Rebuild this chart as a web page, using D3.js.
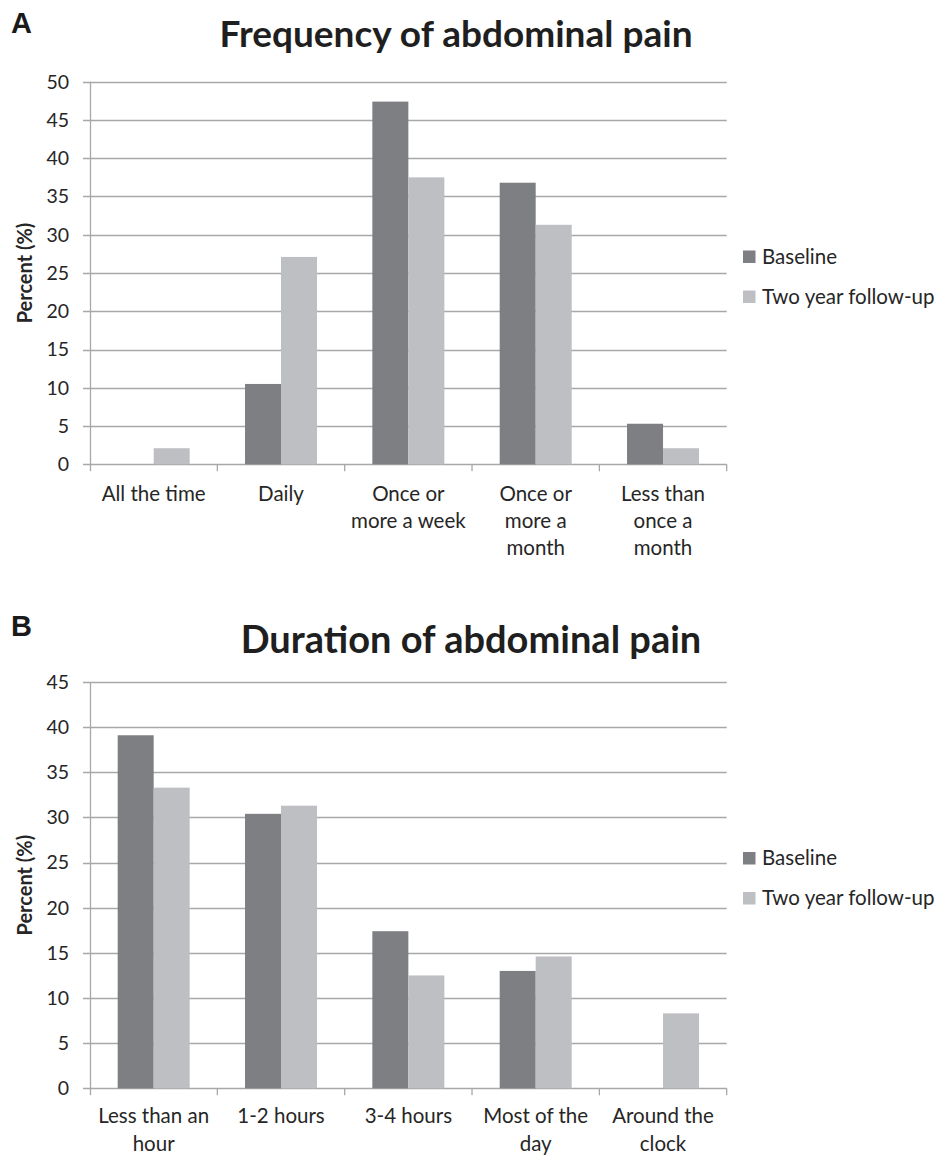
<!DOCTYPE html>
<html>
<head>
<meta charset="utf-8">
<script src="https://cdn.jsdelivr.net/npm/d3@7"></script>
<style>
  html, body { margin: 0; padding: 0; background: #ffffff; }
  svg { display: block; }
  text { font-family: Lato, "Open Sans", sans-serif; fill: #262626; }
</style>
</head>
<body>
<svg id="chart" width="942" height="1155"></svg>
<script>
// ---------- data ----------
const seriesNames = ["Baseline", "Two year follow-up"];

const freqCategories = ["All the time", "Daily", "Once or|more a week", "Once or|more a|month", "Less than|once a|month"];
const freqBaseline = [0, 10.5, 47.4, 36.8, 5.3];
const freqFollowUp = [2.1, 27.1, 37.5, 31.3, 2.1];
const freqTicks = [0, 5, 10, 15, 20, 25, 30, 35, 40, 45, 50];

const durCategories = ["Less than an|hour", "1-2 hours", "3-4 hours", "Most of the|day", "Around the|clock"];
const durBaseline = [39.1, 30.4, 17.4, 13.0, 0];
const durFollowUp = [33.3, 31.3, 12.5, 14.6, 8.3];
const durTicks = [0, 5, 10, 15, 20, 25, 30, 35, 40, 45];

// ---------- style ----------
const colors = ["#7e7f83", "#bebfc3"];
const gridColor = "#a8a8a8";

const svg = d3.select("#chart");

function panel(cfg) {
  const g = svg.append("g");
  const x0 = 90, x1 = 726.7;
  const x = d3.scaleBand().domain(cfg.categories).range([x0, x1]).paddingInner(0).paddingOuter(0);
  const step = x.step();
  const barW = 36;
  const xs = d3.scaleBand().domain(seriesNames).range([0, barW * 2]);
  const y = d3.scaleLinear().domain([0, cfg.max]).range([cfg.yBottom, cfg.yTop]);

  // letter
  g.append("text").attr("x", 11).attr("y", cfg.letterY)
    .style("font-family", "'Liberation Sans', Arial, sans-serif")
    .style("font-weight", "bold").style("font-size", "29px").style("fill", "#1a1a1a")
    .text(cfg.letter);

  // title
  g.append("text").attr("x", cfg.titleX).attr("y", cfg.titleY)
    .attr("text-anchor", "middle")
    .style("font-weight", "bold").style("font-size", cfg.titleSize).style("fill", "#1f1f1f")
    .text(cfg.title);

  // gridlines
  g.selectAll(".grid").data(cfg.ticks).enter().append("line")
    .attr("x1", x0 - 7).attr("x2", x1)
    .attr("y1", d => Math.round(y(d)) + 0.5).attr("y2", d => Math.round(y(d)) + 0.5)
    .attr("stroke", gridColor).attr("stroke-width", 1.3);

  // y tick labels
  g.selectAll(".ytl").data(cfg.ticks).enter().append("text")
    .attr("x", 69).attr("y", d => y(d)).attr("dy", "0.35em")
    .attr("text-anchor", "end").style("font-size", "19.5px")
    .text(d => d);

  // bars
  const series = [cfg.baseline, cfg.followUp];
  seriesNames.forEach((s, si) => {
    g.selectAll(".bar" + si).data(cfg.categories).enter().append("rect")
      .attr("x", d => x(d) + (step - barW * 2) / 2 + xs(s))
      .attr("width", xs.bandwidth())
      .attr("y", (d, i) => y(series[si][i]))
      .attr("height", (d, i) => y(0) - y(series[si][i]))
      .attr("fill", colors[si]);
  });

  // axis lines
  g.append("line").attr("x1", x0 + 0.5).attr("x2", x0 + 0.5)
    .attr("y1", y(cfg.max)).attr("y2", y(0) + 7)
    .attr("stroke", gridColor).attr("stroke-width", 1.3);
  const bounds = cfg.categories.map(c => x(c)).concat([x1]);
  g.selectAll(".xt").data(bounds.slice(1)).enter().append("line")
    .attr("x1", d => d).attr("x2", d => d)
    .attr("y1", y(0)).attr("y2", y(0) + 7)
    .attr("stroke", gridColor).attr("stroke-width", 1.3);

  // x labels
  cfg.categories.forEach(c => {
    const lines = c.split("|");
    const t = g.append("text").attr("text-anchor", "middle").style("font-size", "20.5px");
    lines.forEach((ln, li) => {
      t.append("tspan").attr("x", x(c) + step / 2).attr("y", cfg.labelY + li * cfg.labelStep).text(ln);
    });
  });

  // y axis title
  g.append("text")
    .attr("transform", `translate(${cfg.yTitleX},${(y(0) + y(cfg.max)) / 2}) rotate(-90)`)
    .attr("text-anchor", "middle").attr("dy", "0.35em")
    .style("font-weight", "bold").style("font-size", "20px")
    .text("Percent (%)");

  // legend
  seriesNames.forEach((s, si) => {
    const ly = cfg.legendY + si * 40;
    g.append("rect").attr("x", 743).attr("y", ly - 13).attr("width", 12.5).attr("height", 12.5)
      .attr("fill", colors[si]);
    g.append("text").attr("x", 762).attr("y", ly).style("font-size", "20.5px").text(s);
  });
}

panel({
  letter: "A", letterY: 33.3, title: "Frequency of abdominal pain", titleX: 456, titleY: 47.3, titleSize: "37px",
  categories: freqCategories, baseline: freqBaseline, followUp: freqFollowUp, ticks: freqTicks,
  max: 50, yBottom: 464.3, yTop: 81.7, labelY: 500.7, labelStep: 27, yTitleX: 25, legendY: 263.5
});

panel({
  letter: "B", letterY: 636, title: "Duration of abdominal pain", titleX: 471, titleY: 653, titleSize: "38px",
  categories: durCategories, baseline: durBaseline, followUp: durFollowUp, ticks: durTicks,
  max: 45, yBottom: 1088.3, yTop: 682, labelY: 1123, labelStep: 27.5, yTitleX: 25, legendY: 865
});
</script>
</body>
</html>
